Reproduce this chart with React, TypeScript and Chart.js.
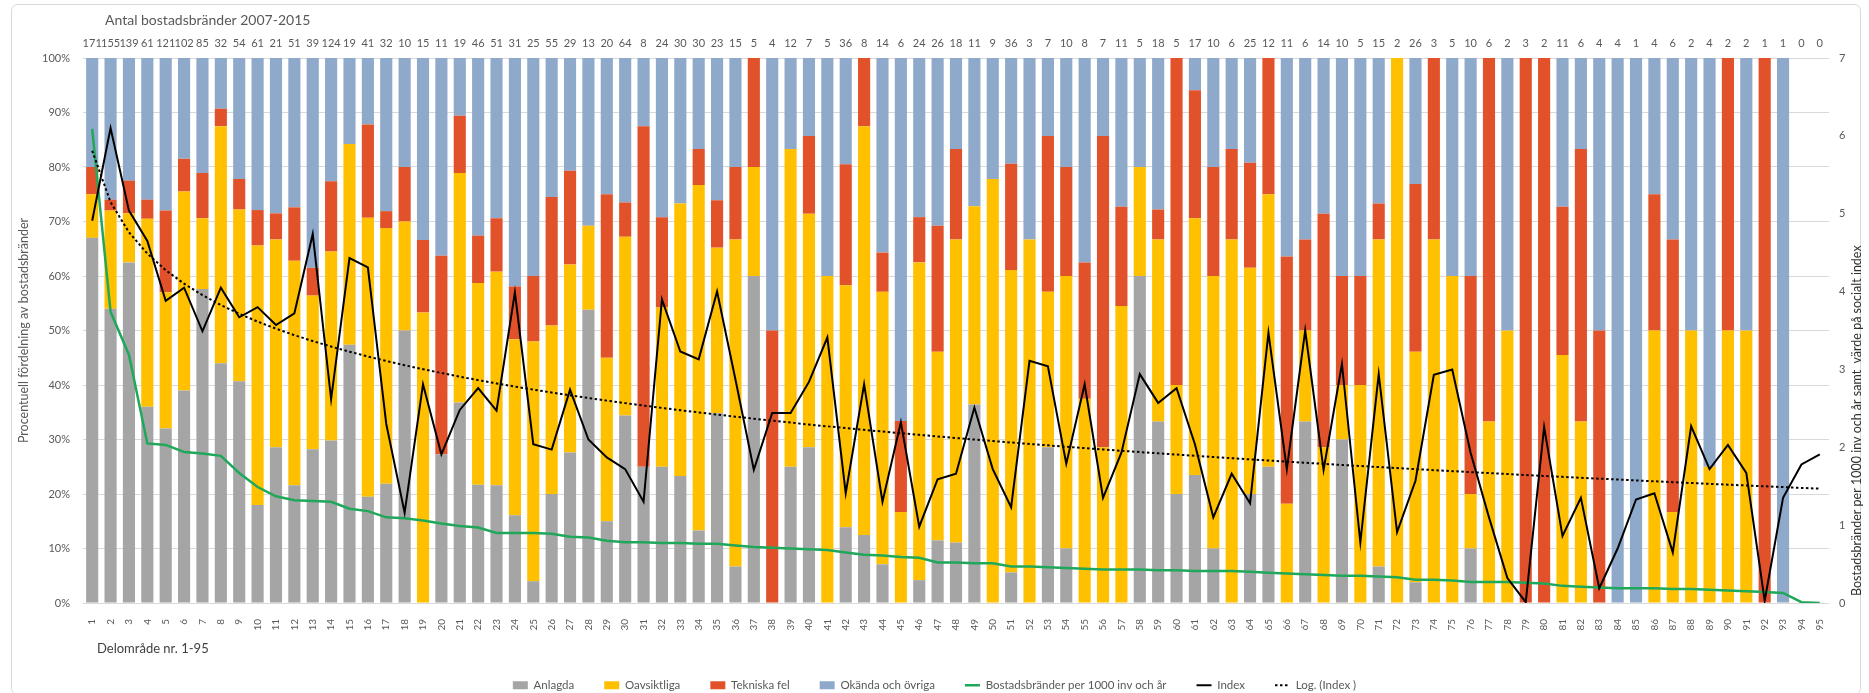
import React, { useEffect, useRef } from 'react';
import { Chart, registerables } from 'chart.js';

Chart.register(...registerables);

const categories = ['1','2','3','4','5','6','7','8','9','10','11','12','13','14','15','16','17','18','19','20','21','22','23','24','25','26','27','28','29','30','31','32','33','34','35','36','37','38','39','40','41','42','43','44','45','46','47','48','49','50','51','52','53','54','55','56','57','58','59','60','61','62','63','64','65','66','67','68','69','70','71','72','73','74','75','76','77','78','79','80','81','82','83','84','85','86','87','88','89','90','91','92','93','94','95'];

const fireCounts = [171,155,139,61,121,102,85,32,54,61,21,51,39,124,19,41,32,10,15,11,19,46,51,31,25,55,29,13,20,64,8,24,30,30,23,15,5,4,12,7,5,36,8,14,6,24,26,18,11,9,36,3,7,10,8,7,11,5,18,5,17,10,6,25,12,11,6,14,10,5,15,2,26,3,5,10,6,2,3,2,11,6,4,4,1,4,6,2,4,2,2,1,1,0,0];

// percent shares per delområde
const anlagda = [67,54,62.5,36,32,39,57.6,44,40.7,18,28.6,21.6,28.2,29.8,47.4,19.5,21.9,50,0,27.3,36.8,21.7,21.6,16.1,4,20,27.6,53.8,15,34.4,25,25,23.3,13.3,34.8,6.7,60,0,25,28.6,0,13.9,12.5,7.1,0,4.2,11.5,11.1,36.4,0,5.6,0,28.6,10,0,0,0,60,33.3,20,23.5,10,0,20,25,0,33.3,0,30,0,6.7,0,3.8,0,0,10,0,0,0,0,0,0,0,0,0,0,0,0,0,0,0,0,0,null,null];
const oavsiktliga = [8,18,9,34.5,25,36.5,13,43.5,31.5,47.6,38.1,41.2,28.2,34.7,36.8,51.2,46.9,20,53.3,0,42.1,37,39.2,32.3,44,30.9,34.5,15.4,30,32.8,0,29.2,50,63.4,30.4,60,20,0,58.3,42.8,60,44.4,75,50,16.7,58.3,34.6,55.6,36.4,77.8,55.5,66.7,28.5,50,37.5,28.6,54.5,20,33.4,20,47.1,50,66.7,41.5,50,18.2,16.7,28.6,10,40,60,100,42.3,66.7,60,10,33.3,50,0,0,45.5,33.3,0,0,0,50,16.7,50,25,50,50,0,0,null,null];
const tekniskaFel = [5,2,6,3.5,15,6,8.3,3.2,5.6,6.5,4.8,9.8,5.1,12.9,0,17.1,3.1,10,13.3,36.4,10.5,8.7,9.8,9.7,12,23.6,17.2,0,30,6.3,62.5,16.6,0,6.6,8.7,13.3,20,50,0,14.3,0,22.2,12.5,7.2,16.7,8.3,23.1,16.6,0,0,19.5,0,28.6,20,25,57.1,18.2,0,5.5,60,23.5,20,16.6,19.3,25,45.4,16.7,42.8,20,20,6.6,0,30.8,33.3,0,40,66.7,0,100,100,27.2,50,50,0,0,25,50,0,0,50,0,100,0,null,null];
const okandaOvriga = [20,26,22.5,26,28,18.5,21.1,9.3,22.2,27.9,28.5,27.4,38.5,22.6,15.8,12.2,28.1,20,33.4,36.3,10.6,32.6,29.4,41.9,40,25.5,20.7,30.8,25,26.5,12.5,29.2,26.7,16.7,26.1,20,0,50,16.7,14.3,40,19.5,0,35.7,66.6,29.2,30.8,16.7,27.2,22.2,19.4,33.3,14.3,20,37.5,14.3,27.3,20,27.8,0,5.9,20,16.7,19.2,0,36.4,33.3,28.6,40,40,26.7,0,23.1,0,40,40,0,50,0,0,27.3,16.7,50,100,100,25,33.3,50,75,0,50,0,100,null,null];

// right axis
const brandPer1000 = [6.09,3.74,3.19,2.05,2.03,1.94,1.92,1.89,1.67,1.49,1.37,1.32,1.31,1.30,1.21,1.18,1.10,1.09,1.06,1.02,0.99,0.97,0.90,0.90,0.90,0.89,0.85,0.84,0.80,0.78,0.78,0.77,0.77,0.76,0.76,0.74,0.72,0.71,0.70,0.69,0.68,0.65,0.62,0.61,0.59,0.58,0.52,0.52,0.51,0.51,0.47,0.47,0.46,0.45,0.44,0.43,0.43,0.43,0.42,0.42,0.41,0.41,0.41,0.40,0.39,0.38,0.37,0.36,0.35,0.35,0.34,0.33,0.30,0.30,0.29,0.27,0.27,0.27,0.26,0.25,0.22,0.21,0.20,0.19,0.19,0.19,0.18,0.18,0.17,0.16,0.15,0.14,0.13,0.01,0];
const socialIndex = [4.91,6.10,5.04,4.65,3.88,4.05,3.49,4.05,3.67,3.80,3.57,3.72,4.74,2.62,4.43,4.31,2.30,1.16,2.81,1.91,2.48,2.76,2.47,3.99,2.04,1.97,2.74,2.10,1.87,1.72,1.30,3.90,3.23,3.13,4.00,2.87,1.71,2.44,2.44,2.84,3.41,1.41,2.81,1.30,2.32,0.98,1.59,1.66,2.51,1.72,1.23,3.11,3.04,1.79,2.81,1.35,1.93,2.94,2.57,2.76,2.04,1.10,1.66,1.28,3.47,1.72,3.50,1.71,3.07,0.78,2.94,0.91,1.57,2.93,3.00,1.93,1.10,0.32,0.01,2.26,0.86,1.35,0.19,0.70,1.33,1.41,0.65,2.27,1.72,2.03,1.67,0.03,1.35,1.78,1.91];

const leftTicks = [0,10,20,30,40,50,60,70,80,90,100];
const rightTicks = [0,1,2,3,4,5,6,7];

// Excel-style logarithmic trendline of the index series (least squares on ln x)
function logTrend(values: number[]): number[] {
  const xs = values.map((_, i) => Math.log(i + 1));
  const n = values.length;
  const mx = xs.reduce((a, b) => a + b, 0) / n;
  const my = values.reduce((a, b) => a + b, 0) / n;
  let sxy = 0, sxx = 0;
  for (let i = 0; i < n; i++) { sxy += (xs[i] - mx) * (values[i] - my); sxx += (xs[i] - mx) ** 2; }
  const a = sxy / sxx;
  const b = my - a * mx;
  return xs.map((x) => a * x + b);
}

const FONT = 'Lato, "Open Sans", sans-serif';
const W = 1869;
const H = 693;
const PLOT_BOTTOM = 603;
const PAD_BOTTOM = -8;

const textPlugin = {
  id: 'extraTexts',
  beforeDraw(chart: any) {
    const ctx = chart.ctx;
    ctx.save();
    ctx.fillStyle = '#ffffff';
    ctx.fillRect(0, 0, chart.width, chart.height);
    ctx.strokeStyle = '#d9d9d9';
    ctx.lineWidth = 1;
    ctx.beginPath();
    ctx.roundRect(11.5, 4.5, 1849, 690, 6);
    ctx.stroke();
    ctx.restore();
  },
  afterDraw(chart: any) {
    const ctx = chart.ctx;
    const area = chart.chartArea;
    ctx.save();
    ctx.fillStyle = '#595959';
    ctx.font = `14px ${FONT}`;
    ctx.textAlign = 'left';
    ctx.textBaseline = 'middle';
    ctx.fillText('Antal bostadsbränder 2007-2015', 105, 20);

    ctx.fillStyle = '#404040';
    ctx.font = `13px ${FONT}`;
    ctx.fillText('Delområde nr. 1-95', 97, 649);

    ctx.save();
    ctx.fillStyle = '#595959';
    ctx.font = `12.5px ${FONT}`;
    ctx.translate(24, (area.top + area.bottom) / 2);
    ctx.rotate(-Math.PI / 2);
    ctx.textAlign = 'center';
    ctx.fillText('Procentuell fördelning av bostadsbränder', 0, 0);
    ctx.restore();

    ctx.save();
    ctx.fillStyle = '#303030';
    ctx.font = `12.5px ${FONT}`;
    ctx.translate(1857, area.bottom - 7);
    ctx.rotate(-Math.PI / 2);
    ctx.textAlign = 'left';
    ctx.fillText('Bostadsbränder per 1000 inv och år samt  värde på socialt index', 0, 0);
    ctx.restore();
    ctx.restore();
  },
};

export default function App() {
  const ref = useRef<HTMLCanvasElement | null>(null);

  useEffect(() => {
    const canvas = ref.current;
    if (!canvas) return;
    const trend = logTrend(socialIndex);
    const barCommon = { type: 'bar' as const, stack: 'pct', xAxisID: 'x', yAxisID: 'y', barPercentage: 0.66, categoryPercentage: 1, borderWidth: 0, order: 4, pointStyle: 'rect' };
    const lineCommon = { type: 'line' as const, xAxisID: 'x', yAxisID: 'y1', pointRadius: 0, pointHoverRadius: 0, tension: 0, fill: false, pointStyle: 'line' };

    const chart = new Chart(canvas, {
      type: 'bar',
      data: {
        labels: categories,
        datasets: [
          { ...barCommon, label: 'Anlagda', data: anlagda, backgroundColor: '#A5A5A5' },
          { ...barCommon, label: 'Oavsiktliga', data: oavsiktliga, backgroundColor: '#FFC000' },
          { ...barCommon, label: 'Tekniska fel', data: tekniskaFel, backgroundColor: '#E1522B' },
          { ...barCommon, label: 'Okända och övriga', data: okandaOvriga, backgroundColor: '#8FA9CA' },
          { ...lineCommon, label: 'Bostadsbränder per 1000 inv och år', data: brandPer1000, borderColor: '#1FA85A', backgroundColor: '#1FA85A', borderWidth: 2.5, order: 2 },
          { ...lineCommon, label: 'Index', data: socialIndex, borderColor: '#000000', backgroundColor: '#000000', borderWidth: 2, order: 0 },
          { ...lineCommon, label: 'Log. (Index )', data: trend, borderColor: '#000000', backgroundColor: '#000000', borderWidth: 2, borderDash: [2.5, 2.5], order: 1 },
        ] as any,
      },
      options: {
        responsive: false,
        animation: false,
        devicePixelRatio: 1,
        layout: { padding: { left: 0, right: 0, top: 0, bottom: PAD_BOTTOM } },
        plugins: {
          tooltip: { enabled: false },
          title: { display: false },
          legend: {
            position: 'bottom',
            labels: {
              usePointStyle: true,
              pointStyleWidth: 15,
              boxHeight: 8,
              padding: 30,
              color: '#595959',
              font: { family: FONT, size: 11.5 },
              generateLabels: (c: any) => c.data.datasets.map((ds: any, i: number) => {
                const isLine = ds.type === 'line';
                return {
                  text: ds.label,
                  datasetIndex: i,
                  fillStyle: isLine ? ds.borderColor : ds.backgroundColor,
                  strokeStyle: isLine ? ds.borderColor : ds.backgroundColor,
                  lineWidth: isLine ? ds.borderWidth : 0,
                  lineDash: ds.borderDash || [],
                  lineCap: 'butt',
                  pointStyle: isLine ? 'line' : 'rect',
                  rotation: 0,
                  hidden: false,
                  fontColor: '#595959',
                };
              }),
            },
          },
        },
        scales: {
          x: {
            type: 'category',
            position: 'bottom',
            stacked: true,
            offset: true,
            grid: { display: false },
            border: { display: false },
            ticks: { autoSkip: false, minRotation: 90, maxRotation: 90, padding: 8, color: '#595959', font: { family: FONT, size: 10 } },
            afterFit: (s: any) => { const lh = s.chart.legend ? s.chart.legend.height : 51; s.height = H - PAD_BOTTOM - PLOT_BOTTOM - lh; },
          },
          x2: {
            type: 'category',
            position: 'top',
            labels: fireCounts.map(String),
            offset: true,
            grid: { display: false },
            border: { display: false },
            ticks: { autoSkip: false, maxRotation: 0, minRotation: 0, padding: 0, color: '#595959', font: { family: FONT, size: 11 } },
            afterFit: (s: any) => { s.height = 58; },
          },
          y: {
            position: 'left',
            stacked: true,
            min: 0,
            max: 100,
            afterBuildTicks: (s: any) => { s.ticks = leftTicks.map((v) => ({ value: v })); },
            ticks: { padding: 13, color: '#595959', font: { family: FONT, size: 11 }, callback: (v: any) => `${v}%` },
            grid: { color: '#d9d9d9', lineWidth: 1, drawTicks: false },
            border: { display: false },
            afterFit: (s: any) => { s.width = 83; },
          },
          y1: {
            position: 'right',
            min: 0,
            max: 7,
            afterBuildTicks: (s: any) => { s.ticks = rightTicks.map((v) => ({ value: v })); },
            ticks: { padding: 10, color: '#595959', font: { family: FONT, size: 11 } },
            grid: { display: false, drawTicks: false },
            border: { display: false },
            afterFit: (s: any) => { s.width = W - 1829; },
          },
        },
      } as any,
      plugins: [textPlugin as any],
    });
    return () => chart.destroy();
  }, []);

  return (
    <div style={{ position: 'absolute', left: 0, top: 0, width: W, height: H, background: '#fff' }}>
      <canvas ref={ref} width={W} height={H} style={{ display: 'block', width: W, height: H }} />
    </div>
  );
}
